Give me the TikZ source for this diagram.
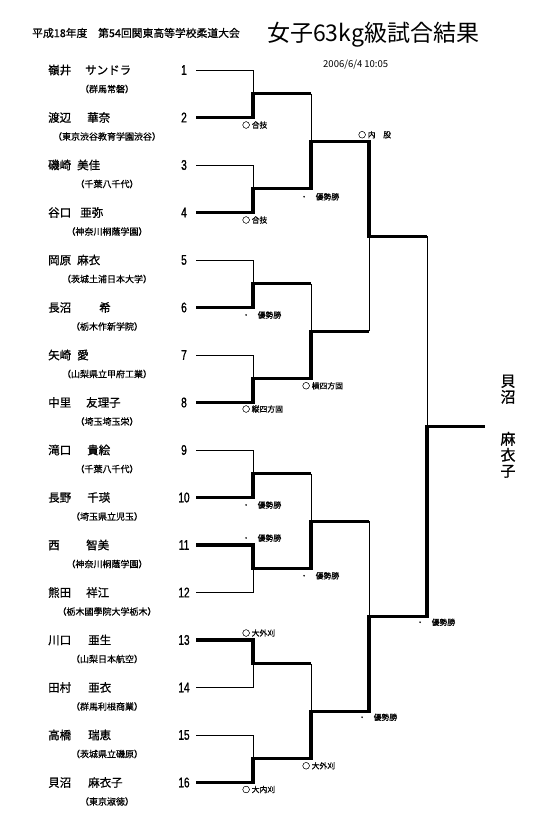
\documentclass[tikz,border=0pt]{standalone}
\usepackage{fontspec}
\setmainfont{Noto Sans CJK JP}
\newfontfamily\numfont{Liberation Sans}[FakeStretch=0.72,FakeBold=1.2]
\newfontfamily\namefont{Noto Sans CJK JP}[FakeBold=0.8]
\newfontfamily\labelfont{Noto Sans CJK JP}[FakeBold=0.5]
\usetikzlibrary{positioning}

\begin{document}
\begin{tikzpicture}[x=1pt,y=-1pt,
  every node/.style={inner sep=0pt},
  hdr/.style={anchor=west,font=\namefont\fontsize{10.8}{12}\selectfont},
  ttl/.style={anchor=west,font=\fontsize{23}{24}\selectfont},
  datestyle/.style={anchor=west,font=\fontsize{9.5}{10}\selectfont},
  num/.style={minimum width=24pt,font=\numfont\fontsize{14}{14}\selectfont},
  pname/.style={anchor=west,font=\namefont\fontsize{11.5}{12}\selectfont},
  school/.style={font=\labelfont\fontsize{9}{10}\selectfont},
  res/.style={font=\labelfont\fontsize{7.8}{8}\selectfont},
  lose/.style={line width=0.9pt},
  win/.style={line width=3.2pt},
  champ/.style={align=center,inner xsep=15pt,font=\namefont\fontsize{15}{16}\selectfont}
]
  \path[fill=white,use as bounding box] (0,0) rectangle (550,821);

  % header
  \node[hdr] (meet) at (32,33) {平成18年度　第54回関東高等学校柔道大会};
  \node[ttl] (title) at (267,35) {女子63kg級試合結果};
  \node[datestyle] (stamp) at (323,65) {2006/6/4 10:05};

  % entrants
  \foreach \i/\fam/\gx/\giv/\sch in {
    1/嶺井/37/サンドラ/群馬常磐,
    2/渡辺/39/華奈/東京渋谷教育学園渋谷,
    3/磯崎/29/美佳/千葉八千代,
    4/谷口/32/亜弥/神奈川桐蔭学園,
    5/岡原/29/麻衣/茨城土浦日本大学,
    6/長沼/51/希/栃木作新学院,
    7/矢崎/29/愛/山梨県立甲府工業,
    8/中里/38/友理子/埼玉埼玉栄,
    9/滝口/39/貴絵/千葉八千代,
    10/長野/39/千瑛/埼玉県立児玉,
    11/西/38/智美/神奈川桐蔭学園,
    12/熊田/38/祥江/栃木國學院大学栃木,
    13/川口/40/亜生/山梨日本航空,
    14/田村/40/亜衣/群馬利根商業,
    15/高橋/40/瑞恵/茨城県立磯原,
    16/貝沼/40/麻衣子/東京淑徳} {
    \node[num] (n\i) at (184,{70+(\i-1)*47.5}) {\i};
    \node[pname] (p\i) at (48,{70+(\i-1)*47.5}) {\makebox[\gx pt][l]{\fam}\giv};
    \node[school] (s\i) at (107,{89+(\i-1)*47.5}) {（\sch）};
    \coordinate (e\i) at (253,{70+(\i-1)*47.5});
  }

  % bracket joints
  \foreach \j in {1,...,8} {
    \coordinate (a\j) at (253,{93.75+(\j-1)*95});
    \coordinate (b\j) at (311,{93.75+(\j-1)*95});
  }
  \foreach \k in {1,...,4} {
    \coordinate (c\k) at (311,{141.25+(\k-1)*190});
    \coordinate (d\k) at (369,{141.25+(\k-1)*190});
  }
  \foreach \l in {1,2} {
    \coordinate (g\l) at (369,{236.25+(\l-1)*380});
    \coordinate (h\l) at (427,{236.25+(\l-1)*380});
  }
  \coordinate (w) at (427,426.25);
  \node[champ] (winner) at (508,426.25) {貝\\沼\\[26pt]麻\\衣\\子};

  % losing legs
  \draw[lose] (n1.east) -- (e1) -- (a1);
  \draw[lose] (b1) -- (c1);
  \draw[lose] (n3.east) -- (e3) -- (a2);
  \draw[lose] (h1) -- (w);
  \draw[lose] (n5.east) -- (e5) -- (a3);
  \draw[lose] (b3) -- (c2);
  \draw[lose] (n7.east) -- (e7) -- (a4);
  \draw[lose] (d2) -- (g1);
  \draw[lose] (n9.east) -- (e9) -- (a5);
  \draw[lose] (b5) -- (c3);
  \draw[lose] (d3) -- (g2);
  \draw[lose] (n12.east) -- (e12) -- (a6);
  \draw[lose] (b7) -- (c4);
  \draw[lose] (n14.east) -- (e14) -- (a7);
  \draw[lose] (n15.east) -- (e15) -- (a8);

  % winning legs
  \draw[win] (n2.east) -- (e2) -- (a1) -- (b1);
  \draw[win] (n4.east) -- (e4) -- (a2) -- (b2) -- (c1) -- (d1) -- (g1) -- (h1);
  \draw[win] (n6.east) -- (e6) -- (a3) -- (b3);
  \draw[win] (n8.east) -- (e8) -- (a4) -- (b4) -- (c2) -- (d2);
  \draw[win] (n10.east) -- (e10) -- (a5) -- (b5);
  \draw[win] (n11.east) -- (e11) -- (a6) -- (b6) -- (c3) -- (d3);
  \draw[win] (n13.east) -- (e13) -- (a7) -- (b7);
  \draw[win] (n16.east) -- (e16) -- (a8) -- (b8) -- (c4) -- (d4) -- (g2) -- (h2) -- (w) -- (winner);

  % results
  \node[res,right=-11pt of e2,yshift=-7.5pt] (k1) {○ 合技};
  \node[res,right=-11pt of e4,yshift=-7.5pt] (k2) {○ 合技};
  \node[res,right=-11pt of e6,yshift=-7.5pt] (k3) {・　優勢勝};
  \node[res,right=-11pt of e8,yshift=-6.5pt] (k4) {○ 縦四方固};
  \node[res,right=-11pt of e10,yshift=-7.5pt] (k5) {・　優勢勝};
  \node[res,right=-11pt of e11,yshift=7pt] (k6) {・　優勢勝};
  \node[res,right=-11pt of e13,yshift=7pt] (k7) {○ 大外刈};
  \node[res,right=-11pt of e16,yshift=-7pt] (k8) {○ 大内刈};
  \node[res,right=-11pt of b2,yshift=-8pt] (k9) {・　優勢勝};
  \node[res,right=-9pt of b4,yshift=-7pt] (k10) {○ 横四方固};
  \node[res,right=-11pt of b6,yshift=-7pt] (k11) {・　優勢勝};
  \node[res,right=-9pt of b8,yshift=-7pt] (k12) {○ 大外刈};
  \node[res,right=-11pt of d1,yshift=6.5pt] (k13) {○ 内　股};
  \node[res,right=-11pt of d4,yshift=-6pt] (k14) {・　優勢勝};
  \node[res,right=-11pt of h2,yshift=-6pt] (k15) {・　優勢勝};
\end{tikzpicture}
\end{document}
